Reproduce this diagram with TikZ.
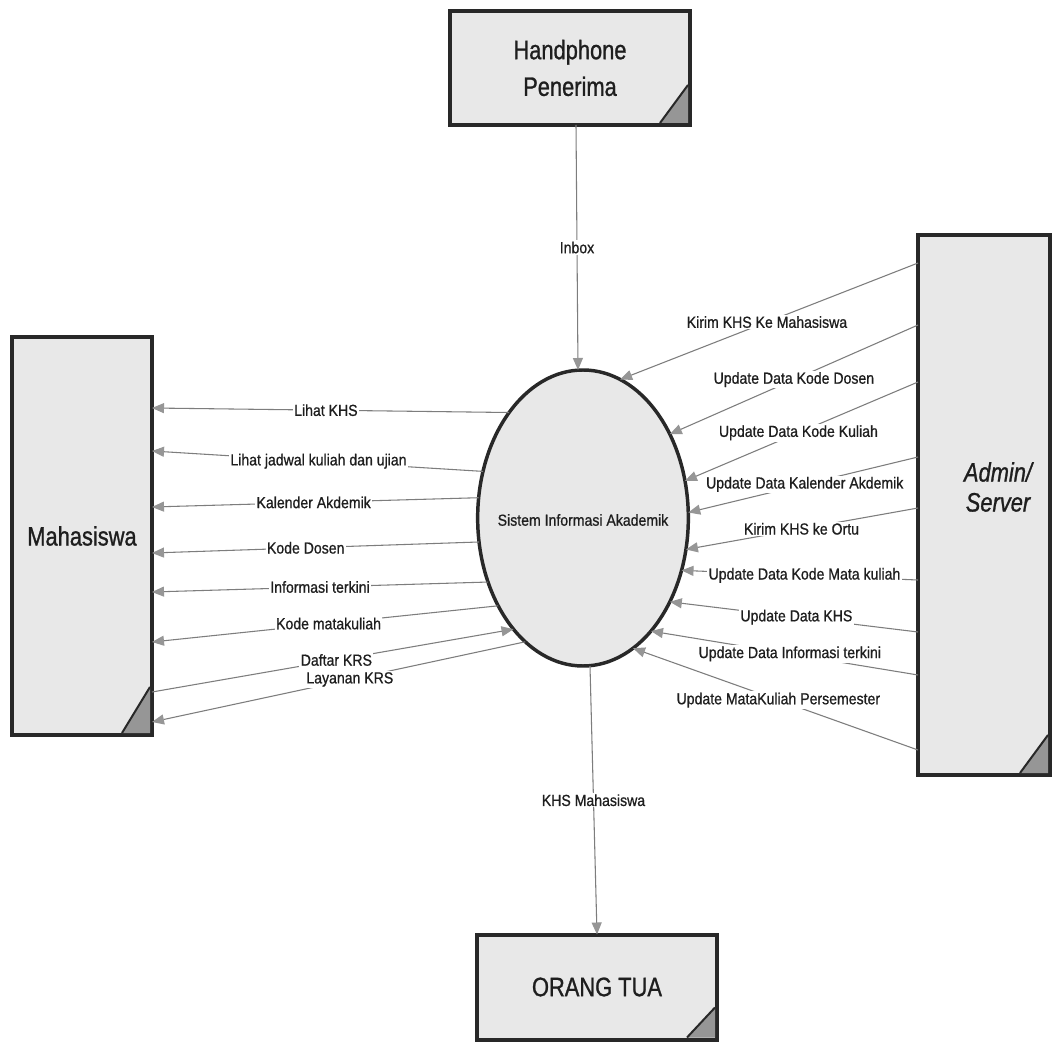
\documentclass[tikz,border=0pt]{standalone}
\usepackage{fontspec}
\newfontfamily\lblfont[FakeStretch=0.88,FakeBold=0.8]{Liberation Sans}
\newfontfamily\bigfont[FakeStretch=0.82,FakeBold=1]{Liberation Sans}
\usetikzlibrary{calc,arrows.meta,shapes.geometric}
\definecolor{boxfill}{RGB}{232,232,232}
\definecolor{edgecol}{RGB}{40,40,40}
\definecolor{flowgray}{RGB}{125,125,125}
\definecolor{tipfill}{RGB}{150,150,150}
\definecolor{txt}{RGB}{30,30,30}

\begin{document}
\begin{tikzpicture}[x=0.75pt,y=-0.75pt,
  entity/.style={draw=edgecol,line width=3pt,fill=boxfill,rectangle,inner sep=0pt,outer sep=0pt,
    font=\bigfont\fontsize{20}{27.5}\selectfont,text=txt,align=center},
  process/.style={draw=edgecol,line width=2.6pt,fill=boxfill,ellipse,inner sep=0pt,outer sep=0pt,
    minimum width=158pt,minimum height=222pt},
  flow/.style={draw=flowgray,line width=0.8pt,
    -{Triangle[length=9pt,width=7.5pt,color=tipfill]}},
  lbl/.style={fill=white,inner sep=1pt,font=\lblfont\fontsize{12}{14}\selectfont,text=txt},
  cornerfill/.style={fill=tipfill},
  cornerline/.style={draw=edgecol,line width=1.5pt}
]
\useasboundingbox[fill=white] (0,0) rectangle (1057,1048);

% external entities and the process
\node[entity,minimum width=180pt,minimum height=85.5pt] (h) at (570,68) {Handphone\\Penerima};
\node[entity,minimum width=105pt,minimum height=298.5pt] (m) at (82,536) {Mahasiswa};
\node[entity,minimum width=99pt,minimum height=405pt] (a) at (984,505) {};
\node[font=\bigfont\itshape\fontsize{20}{22.5}\selectfont,text=txt,align=center,inner sep=0pt]
  (alabel) at ($(a.center)+(14,-18)$) {Admin/\\Server};
\node[entity,minimum width=180pt,minimum height=78.75pt] (o) at (597,987) {ORANG TUA};
\node[process] (s) at (583,518) {};
\node[font=\lblfont\fontsize{12}{14}\selectfont,text=txt,inner sep=0pt] (stext) at ($(s.center)+(0,2)$) {Sistem Informasi Akademik};

% folded corners of the entity boxes
\foreach \n/\w/\hh in {h/30/40, m/30/48, a/30/40, o/30/32}{
  \fill[cornerfill] ($(\n.south east)+(-\w,-2)$) -- ($(\n.south east)+(-2,-\hh)$) -- ($(\n.south east)+(-2,-2)$) -- cycle;
  \draw[cornerline] ($(\n.south east)+(-\w,-2)$) -- ($(\n.south east)+(-2,-\hh)$);
}

% vertical flows
\draw[flow] ($(h.south)+(6,0)$) -- node[lbl,pos=0.5]{Inbox} ($(s.north)+(-5,0)$);
\draw[flow] ($(s.south)+(7,0)$) -- node[lbl,pos=0.5]{KHS Mahasiswa} (o.north);

% flows between the process and Mahasiswa
\draw[flow] (s.125.9) -- node[lbl,pos=0.513]{Lihat KHS} ($(m.north east)+(0,71)$);
\draw[flow] (s.155.0) -- node[lbl,pos=0.497]{Lihat jadwal kuliah dan ujian} ($(m.north east)+(0,114)$);
\draw[flow] (s.169.5) -- node[lbl,pos=0.505]{Kalender Akdemik} ($(m.north east)+(0,170)$);
\draw[flow] (s.193.0) -- node[lbl,pos=0.53]{Kode Dosen} ($(m.north east)+(0,216)$);
\draw[flow] (s.214.9) -- node[lbl,pos=0.50]{Informasi terkini} ($(m.north east)+(0,255)$);
\draw[flow] (s.226.9) -- node[lbl,pos=0.49]{Kode matakuliah} ($(m.north east)+(0,305)$);
\draw[flow] ($(m.north east)+(0,355)$) -- node[lbl,pos=0.51]{Daftar KRS} (s.238.4);
\draw[flow] (s.245.6) -- node[lbl,pos=0.47]{Layanan KRS} ($(m.north east)+(0,385)$);

% flows from Admin/Server into the process
\draw[flow] ($(a.north west)+(0,28)$) -- node[lbl,pos=0.507]{Kirim KHS Ke Mahasiswa} (s.75.7);
\draw[flow] ($(a.north west)+(0,90)$) -- node[lbl,pos=0.50]{Update Data Kode Dosen} (s.44.1);
\draw[flow] ($(a.north west)+(0,147)$) -- node[lbl,pos=0.513]{Update Data Kode Kuliah} (s.20.6);
\draw[flow] ($(a.north west)+(0,222)$) -- node[lbl,pos=0.493]{Update Data Kalender Akdemik} (s.3.1);
\draw[flow] ($(a.north west)+(0,273)$) -- node[lbl,pos=0.502]{Kirim KHS ke Ortu} (s.343.8);
\draw[flow] ($(a.north west)+(0,345)$) -- node[lbl,pos=0.48]{Update Data Kode Mata kuliah} (s.332.1);
\draw[flow] ($(a.north west)+(0,397)$) -- node[lbl,pos=0.49]{Update Data KHS} (s.316.6);
\draw[flow] ($(a.north west)+(0,440)$) -- node[lbl,pos=0.48]{Update Data Informasi terkini} (s.301.7);
\draw[flow] ($(a.north west)+(0,515)$) -- node[lbl,pos=0.49]{Update MataKuliah Persemester} (s.291.2);
\end{tikzpicture}
\end{document}
